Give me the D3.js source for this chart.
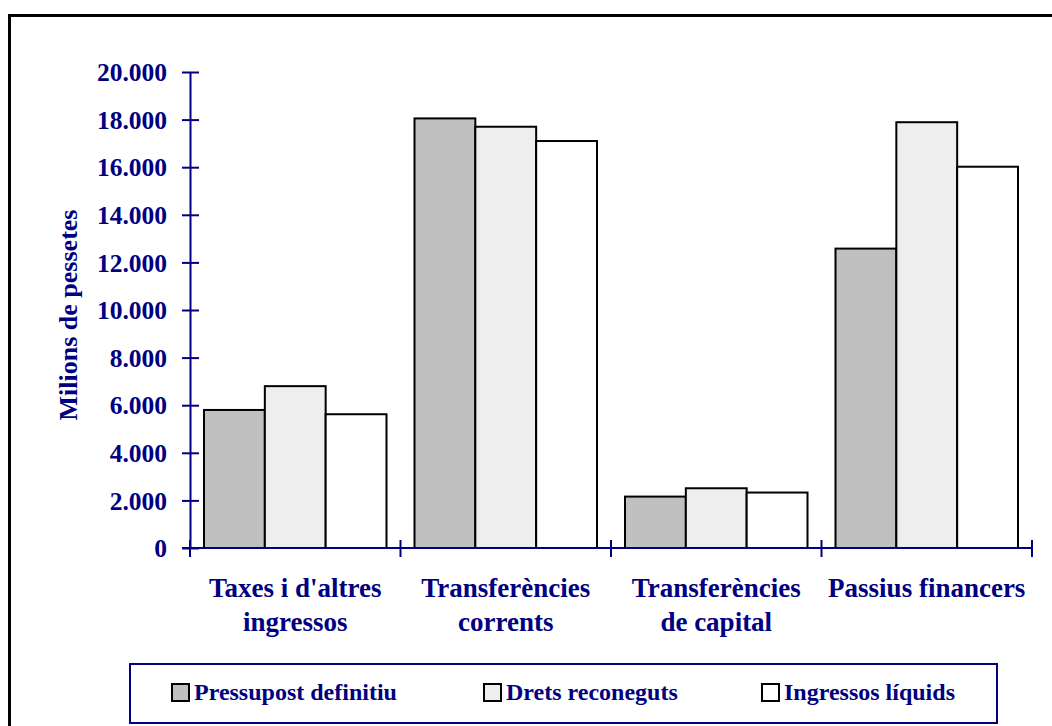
<!DOCTYPE html>
<html>
<head>
<meta charset="utf-8">
<script src="https://cdn.jsdelivr.net/npm/d3@7"></script>
<style>
  body { margin: 0; background: #fff; }
  text { font-family: "Liberation Serif", "Times New Roman", serif; font-weight: bold; fill: #000080; }
</style>
</head>
<body>
<div id="main"></div>
<script>
// categories (two-line labels)
var categories = ["Taxes i d'altres ingressos", "Transferències corrents", "Transferències de capital", "Passius financers"];
var catLines = [["Taxes i d'altres", "ingressos"], ["Transferències", "corrents"], ["Transferències", "de capital"], ["Passius financers"]];

// series
var series = ["Pressupost definitiu", "Drets reconeguts", "Ingressos líquids"];
var pressupost = [5800, 18050, 2160, 12580];
var drets = [6800, 17700, 2510, 17890];
var ingressos = [5620, 17100, 2330, 16020];
var yTicks = [0, 2000, 4000, 6000, 8000, 10000, 12000, 14000, 16000, 18000, 20000];

var colors = ["#c0c0c0", "#eeeeee", "#ffffff"];
var navy = "#000080";

var W = 1052, H = 726;
var svg = d3.select("#main")
  .append("svg")
    .attr("width", W)
    .attr("height", H);

// outer frame (runs past the right and bottom edge)
svg.append("rect")
  .attr("x", 9.5)
  .attr("y", 15.5)
  .attr("width", W + 20)
  .attr("height", H + 20)
  .attr("fill", "none")
  .attr("stroke", "#000")
  .attr("stroke-width", 3);

var x0 = d3.scaleBand()
  .domain(categories)
  .range([190, 1032]);

var x1 = d3.scaleBand()
  .domain(series)
  .range([14, x0.bandwidth() - 14]);

var y = d3.scaleLinear()
  .domain([0, 20000])
  .range([548, 72]);

var values = [pressupost, drets, ingressos];
var rows = [];
categories.forEach(function(c, i) {
  series.forEach(function(s, j) {
    rows.push({cat: c, ser: s, idx: j, v: values[j][i]});
  });
});

// bars
svg.append("g")
  .selectAll("rect")
  .data(rows)
  .enter().append("rect")
    .attr("x", function(d) { return x0(d.cat) + x1(d.ser); })
    .attr("y", function(d) { return y(d.v); })
    .attr("width", x1.bandwidth())
    .attr("height", function(d) { return y(0) - y(d.v); })
    .attr("fill", function(d) { return colors[d.idx]; })
    .attr("stroke", "#000")
    .attr("stroke-width", 2);

// y axis
var fmt = d3.formatLocale({decimal: ",", thousands: ".", grouping: [3], currency: ["", ""]}).format(",");
var yAxis = svg.append("g")
  .attr("transform", "translate(190,0)")
  .call(d3.axisLeft(y).tickValues(yTicks).tickFormat(fmt).tickSizeInner(8).tickSizeOuter(0).tickPadding(15));
yAxis.select(".domain").attr("stroke", navy).attr("stroke-width", 2);
yAxis.selectAll(".tick line").attr("stroke", navy).attr("stroke-width", 2).attr("x2", 9).attr("x1", -8);
yAxis.selectAll(".tick text")
  .attr("fill", navy)
  .style("font-size", "25.5px")
  .attr("dy", "0.34em");

// x axis
var xAxis = svg.append("g")
  .attr("transform", "translate(0," + y(0) + ")");
xAxis.append("line")
  .attr("x1", 182).attr("x2", x0.range()[1])
  .attr("stroke", navy).attr("stroke-width", 2);
var xTickPos = categories.map(function(c) { return x0(c); }).concat([x0.range()[1]]);
xAxis.selectAll("line.xt")
  .data(xTickPos)
  .enter().append("line")
    .attr("class", "xt")
    .attr("x1", function(d) { return d; })
    .attr("x2", function(d) { return d; })
    .attr("y1", -8).attr("y2", 9)
    .attr("stroke", navy).attr("stroke-width", 2);

// category labels
svg.append("g")
  .selectAll("text")
  .data(categories)
  .enter().append("text")
    .attr("text-anchor", "middle")
    .attr("x", function(d) { return x0(d) + x0.bandwidth() / 2; })
    .attr("y", 597)
    .style("font-size", "27px")
    .each(function(d, i) {
      var t = d3.select(this);
      catLines[i].forEach(function(line, k) {
        t.append("tspan")
          .attr("x", x0(d) + x0.bandwidth() / 2)
          .attr("dy", k === 0 ? 0 : 34)
          .text(line);
      });
    });

// y axis title
svg.append("text")
  .attr("transform", "translate(77,315) rotate(-90)")
  .attr("text-anchor", "middle")
  .style("font-size", "26px")
  .text("Milions de pessetes");

// legend
var legend = svg.append("g");
legend.append("rect")
  .attr("x", 130).attr("y", 664)
  .attr("width", 867).attr("height", 59)
  .attr("fill", "#fff")
  .attr("stroke", navy).attr("stroke-width", 2);
var legendX = [172, 484, 762];
var items = legend.selectAll("g.item")
  .data(series)
  .enter().append("g")
    .attr("class", "item")
    .attr("transform", function(d, i) { return "translate(" + legendX[i] + ",684)"; });
items.append("rect")
  .attr("width", 17).attr("height", 17)
  .attr("fill", function(d, i) { return colors[i]; })
  .attr("stroke", "#000").attr("stroke-width", 2);
items.append("text")
  .attr("x", 22).attr("y", 16)
  .style("font-size", "24px")
  .text(function(d) { return d; });
</script>
</body>
</html>
